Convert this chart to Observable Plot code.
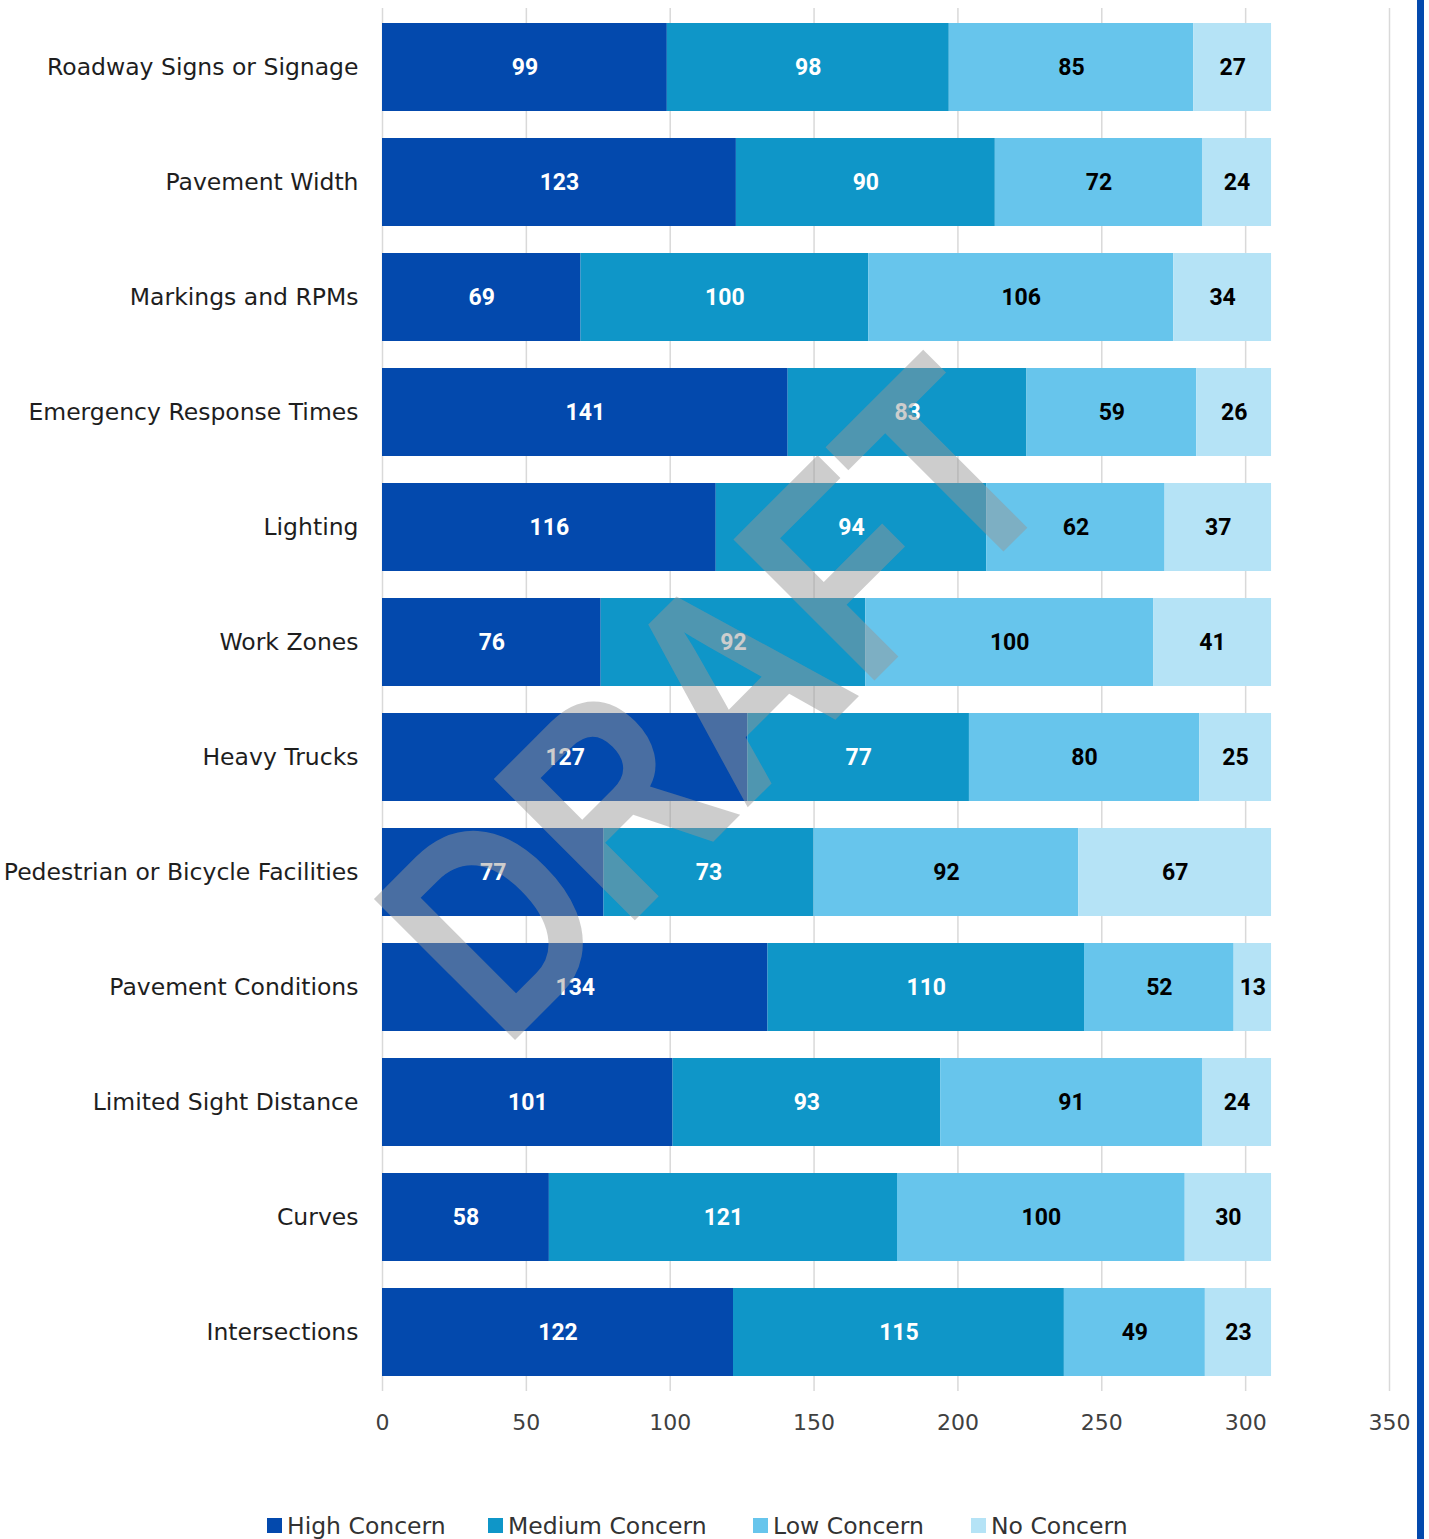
<!DOCTYPE html>
<html><head><meta charset="utf-8">
<script src="https://cdn.jsdelivr.net/npm/d3@7"></script>
<script src="https://cdn.jsdelivr.net/npm/@observablehq/plot@0.6"></script>
<style>
body{margin:0;background:#fff;width:1429px;height:1539px;overflow:hidden;position:relative;font-family:"DejaVu Sans",sans-serif;}
#chart{position:absolute;left:0;top:0;}
#legend{position:absolute;left:0;top:1470px;width:1429px;height:69px;}
.item{position:absolute;top:40px;height:31px;display:flex;align-items:center;gap:5px;font-size:23.5px;color:#333;white-space:nowrap;}
.sw{width:15px;height:15px;display:inline-block;}
#edge{position:absolute;left:1417px;top:0;width:7px;height:1539px;background:#0349AD;}
</style></head><body>
<div id="chart"></div><div id="legend"></div><div id="edge"></div>
<script>
const categories = [
  "Roadway Signs or Signage",
  "Pavement Width",
  "Markings and RPMs",
  "Emergency Response Times",
  "Lighting",
  "Work Zones",
  "Heavy Trucks",
  "Pedestrian or Bicycle Facilities",
  "Pavement Conditions",
  "Limited Sight Distance",
  "Curves",
  "Intersections"
];
const levels = ["High Concern", "Medium Concern", "Low Concern", "No Concern"];
const highConcern   = [99, 123, 69, 141, 116, 76, 127, 77, 134, 101, 58, 122];
const mediumConcern = [98, 90, 100, 83, 94, 92, 77, 73, 110, 93, 121, 115];
const lowConcern    = [85, 72, 106, 59, 62, 100, 80, 92, 52, 91, 100, 49];
const noConcern     = [27, 24, 34, 26, 37, 41, 25, 67, 13, 24, 30, 23];
const levelColors = ["#0349AD", "#0F96C8", "#67C5EC", "#B5E3F6"];
const xTicks = [0, 50, 100, 150, 200, 250, 300, 350];
const watermarkText = "DRAFT";

const series = [highConcern, mediumConcern, lowConcern, noConcern];
const segments = [];
categories.forEach((c, i) => {
  let acc = 0;
  levels.forEach((l, j) => {
    const v = series[j][i];
    segments.push({category: c, level: l, value: v, x1: acc, x2: acc + v, dark: j < 2});
    acc += v;
  });
});

const labelOpts = {
  y: "category",
  x: d => (d.x1 + d.x2) / 2,
  text: d => String(d.value),
  fontFamily: "Roboto, sans-serif",
  fontWeight: "bold",
  fontSize: 23
};

const plot = Plot.plot({
  width: 1429,
  height: 1470,
  marginLeft: 382,
  marginRight: 40,
  marginTop: 8,
  marginBottom: 79,
  style: {fontFamily: "DejaVu Sans, sans-serif", background: "#fff", overflow: "visible"},
  x: {domain: [0, 350]},
  y: {domain: categories, paddingInner: 0.234, paddingOuter: 0.117, align: 0.5},
  color: {domain: levels, range: levelColors},
  marks: [
    Plot.gridX({ticks: xTicks, stroke: "#d9d9d9", strokeOpacity: 1, strokeWidth: 1.5}),
    Plot.barX(segments, {y: "category", x1: "x1", x2: "x2", fill: "level"}),
    Plot.text(segments.filter(d => d.dark), {...labelOpts, fill: "white"}),
    Plot.text(segments.filter(d => !d.dark), {...labelOpts, fill: "black"}),
    Plot.axisX({ticks: xTicks, tickSize: 0, tickPadding: 23, fontSize: 22, color: "#404040", label: null, fontFamily: "DejaVu Sans, sans-serif"}),
    Plot.axisY({tickSize: 0, tickPadding: 24, fontSize: 23.5, color: "#1e1e1e", label: null, fontFamily: "DejaVu Sans, sans-serif"}),
    Plot.text([watermarkText], {
      frameAnchor: "middle", text: d => d, rotate: -45,
      fontSize: 290, fontFamily: "Liberation Sans, Arial, sans-serif", fontWeight: "bold",
      fill: "rgb(150,150,150)", fillOpacity: 0.48,
      textAnchor: "middle", lineAnchor: "bottom", dx: -101, dy: 70
    })
  ]
});
document.getElementById("chart").appendChild(plot);
plot.querySelectorAll("text").forEach(t => {
  if (t.textContent === watermarkText) {
    t.setAttribute("textLength", "795");
    t.setAttribute("lengthAdjust", "spacingAndGlyphs");
  }
});

const legendX = [267, 488, 753, 971];
const legend = document.getElementById("legend");
levels.forEach((l, j) => {
  const item = document.createElement("div");
  item.className = "item";
  item.style.left = legendX[j] + "px";
  const sw = document.createElement("span");
  sw.className = "sw";
  sw.style.background = levelColors[j];
  const tx = document.createElement("span");
  tx.textContent = l;
  item.appendChild(sw);
  item.appendChild(tx);
  legend.appendChild(item);
});
</script>
</body></html>
